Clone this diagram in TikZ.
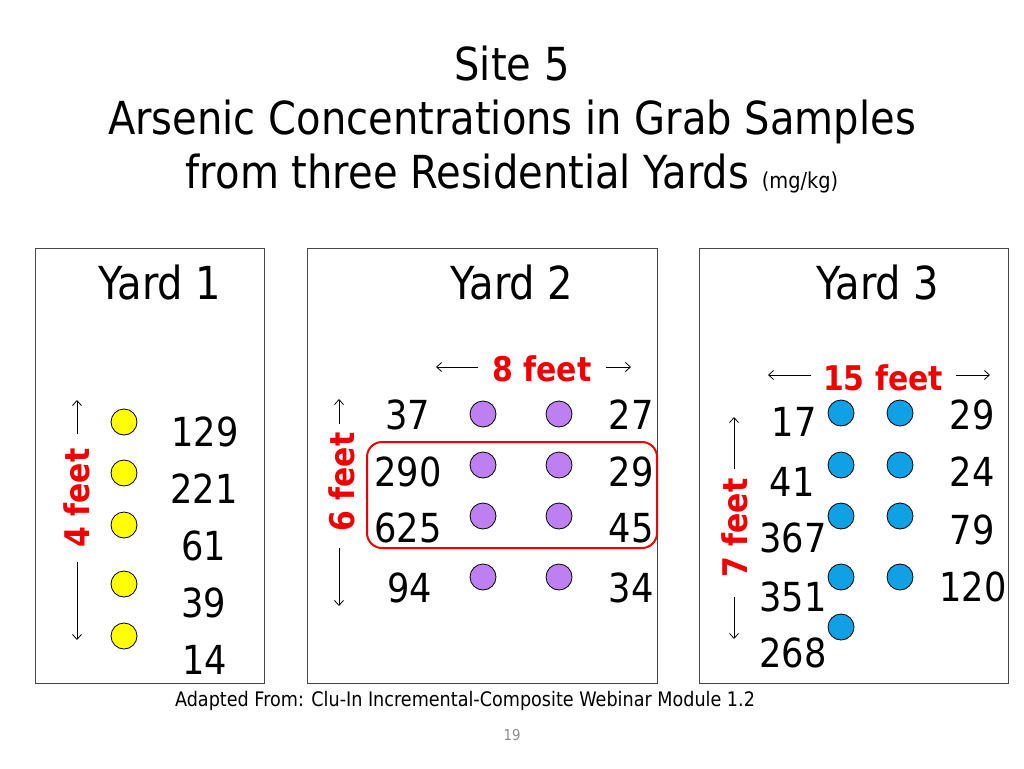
\documentclass[tikz,border=0pt]{standalone}
\usepackage{fontspec}
\setmainfont{DejaVu Sans}[FakeStretch=0.88]
\usetikzlibrary{arrows.meta}
\definecolor{ylw}{RGB}{255,255,0}
\definecolor{prp}{RGB}{190,128,240}
\definecolor{blu}{RGB}{16,160,228}
\definecolor{framec}{RGB}{70,70,70}
\definecolor{pgnum}{RGB}{140,140,140}
\definecolor{redc}{RGB}{240,0,0}
\begin{document}
\begin{tikzpicture}[x=1pt,y=-1pt,
  yardbox/.style={draw=framec,line width=1pt},
  dot/.style={circle,draw=black,line width=0.8pt,minimum size=26pt,inner sep=0pt},
  ydot/.style={dot,fill=ylw},
  pdot/.style={dot,fill=prp},
  bdot/.style={dot,fill=blu},
  num/.style={font=\fontsize{40}{44}\selectfont,inner sep=0pt},
  ttl/.style={font=\fontsize{45.5}{50}\selectfont,inner sep=0pt,anchor=base},
  ylab/.style={font=\fontsize{45.5}{50}\selectfont,inner sep=0pt,anchor=base},
  ft/.style={text=redc,font=\fontsize{34}{38}\selectfont\bfseries,inner sep=0pt},
  dimarrow/.style={line width=0.8pt,-{Straight Barb[length=5pt,width=9pt]}},
]
\path[use as bounding box,fill=white] (0,0) rectangle (1024,768);

% title
\node[ttl] (t1) at (512,80) {Site 5};
\node[ttl] (t2) at (512,134) {Arsenic Concentrations in Grab Samples};
\node[ttl] (t3) at (512,188) {from three Residential Yards {\fontsize{22}{25}\selectfont (mg/kg)}};

% yard boxes
\draw[yardbox] (35,248) rectangle (264,683);
\draw[yardbox] (307,248) rectangle (657,683);
\draw[yardbox] (699,248) rectangle (1008,683);

\node[ylab] (y1) at (160,299) {Yard 1};
\node[ylab] (y2) at (512,299) {Yard 2};
\node[ylab] (y3) at (878,299) {Yard 3};

% Yard 1
\foreach \yy [count=\i] in {422,473,525,584,636} \node[ydot] (a\i) at (124,\yy) {};
\node[num] (n11) at (205,432) {129};
\node[num] (n12) at (204,489) {221};
\node[num] (n13) at (204,546) {61};
\node[num] (n14) at (204,603) {39};
\node[num] (n15) at (205,660) {14};
\node[ft,rotate=90] (f1) at (77,498) {4 feet};
\coordinate (f1u) at (77,400);
\coordinate (f1d) at (77,640);
\draw[dimarrow] (77,434) -- (f1u);
\draw[dimarrow] (77,562) -- (f1d);

% Yard 2
\foreach \yy [count=\i] in {414,465,516,577} {
  \node[pdot] (p\i) at (483,\yy) {};
  \node[pdot] (q\i) at (559,\yy) {};
}
\node[num] (m1) at (408,415) {37};
\node[num] (m2) at (408,472) {290};
\node[num] (m3) at (408,528) {625};
\node[num] (m4) at (410,588) {94};
\node[num] (m5) at (631,415) {27};
\node[num] (m6) at (631,472) {29};
\node[num] (m7) at (631,528) {45};
\node[num] (m8) at (631,588) {34};
\draw[redc,line width=2pt,rounded corners=15pt] (367,442) rectangle (657,548);
\node[ft] (f2) at (542,369) {8 feet};
\coordinate (f2l) at (436,367);
\coordinate (f2r) at (631,367);
\draw[dimarrow] (478,367) -- (f2l);
\draw[dimarrow] (606,367) -- (f2r);
\node[ft,rotate=90] (f3) at (342,482) {6 feet};
\coordinate (f3u) at (339,399);
\coordinate (f3d) at (339,606);
\draw[dimarrow] (339,424) -- (f3u);
\draw[dimarrow] (339,548) -- (f3d);

% Yard 3
\foreach \yy [count=\i] in {413,465,516,577,627} \node[bdot] (b\i) at (841,\yy) {};
\foreach \yy [count=\i] in {413,465,516,577} \node[bdot] (c\i) at (900,\yy) {};
\node[num] (k1) at (794,422) {17};
\node[num] (k2) at (792,482) {41};
\node[num] (k3) at (793,538) {367};
\node[num] (k4) at (793,597) {351};
\node[num] (k5) at (793,653) {268};
\node[num] (k6) at (972,415) {29};
\node[num] (k7) at (972,472) {24};
\node[num] (k8) at (972,530) {79};
\node[num] (k9) at (973,587) {120};
\node[ft] (f4) at (883,378) {15 feet};
\coordinate (f4l) at (768,375);
\coordinate (f4r) at (990,375);
\draw[dimarrow] (811,375) -- (f4l);
\draw[dimarrow] (956,375) -- (f4r);
\node[ft,rotate=90] (f5) at (735,528) {7 feet};
\coordinate (f5u) at (734,417);
\coordinate (f5d) at (734,639);
\draw[dimarrow] (734,469) -- (f5u);
\draw[dimarrow] (734,597) -- (f5d);

% footer
\node[font=\fontsize{20}{23}\selectfont,inner sep=0pt] (src) at (465,701) {Adapted From: Clu-In Incremental-Composite Webinar Module 1.2};
\node[font=\fontsize{15}{18}\selectfont,text=pgnum,inner sep=0pt] (pg) at (512,735) {19};
\end{tikzpicture}
\end{document}
